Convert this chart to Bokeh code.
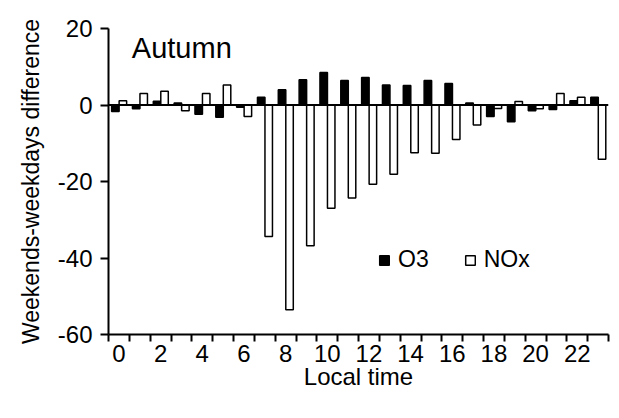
from bokeh.plotting import figure
from bokeh.models import Range1d, FixedTicker, Span, Legend, LegendItem, Label
from bokeh.embed import file_html
from bokeh.resources import INLINE

hours = list(range(24))
o3 = [-1.7, -1.0, 1.0, 0.5, -2.4, -3.2, -0.6, 2.0, 4.0, 6.6, 8.5, 6.4,
      7.2, 5.2, 5.1, 6.4, 5.6, 0.5, -3.0, -4.4, -1.5, -1.2, 1.1, 2.0]
nox = [1.1, 3.0, 3.6, -1.5, 3.0, 5.2, -3.0, -34.4, -53.5, -36.8, -27.0, -24.3,
       -20.7, -18.1, -12.5, -12.6, -9.0, -5.2, -0.9, 0.9, -1.0, 3.0, 2.0, -14.2]
x_tick_labels = [0, 2, 4, 6, 8, 10, 12, 14, 16, 18, 20, 22]
y_ticks = [-60, -40, -20, 0, 20]

FONT = "Liberation Sans"

p = figure(width=619, height=418, output_backend="svg", toolbar_location=None,
           x_range=Range1d(-0.5, 23.5), y_range=Range1d(-60, 20),
           min_border_left=108, min_border_right=11, min_border_top=28,
           min_border_bottom=84)
p.outline_line_color = None
p.xgrid.visible = False
p.ygrid.visible = False
p.background_fill_color = "white"

x_o3 = [h - 0.17 for h in hours]
x_nox = [h + 0.19 for h in hours]
r1 = p.vbar(x=x_o3, top=o3, bottom=0, width=0.36, fill_color="black",
            line_color="black", line_width=1.5)
r2 = p.vbar(x=x_nox, top=nox, bottom=0, width=0.36, fill_color="white",
            line_color="black", line_width=1.5)

p.add_layout(Span(location=0, dimension="width", line_color="black", line_width=2))

xa = p.xaxis[0]
xa.ticker = FixedTicker(ticks=x_tick_labels, minor_ticks=[h - 0.5 for h in range(25)])
xa.major_tick_out = 0
xa.major_tick_in = 0
xa.minor_tick_out = 7
xa.minor_tick_in = 0
xa.minor_tick_line_width = 2
xa.minor_tick_line_color = "black"
xa.axis_line_width = 2
xa.axis_line_color = "black"
xa.major_label_text_font = FONT
xa.major_label_text_font_size = "24px"
xa.major_label_text_color = "black"
xa.major_label_standoff = 3
xa.axis_label = "Local time"
xa.axis_label_text_font = FONT
xa.axis_label_text_font_size = "24px"
xa.axis_label_text_font_style = "normal"
xa.axis_label_text_color = "black"
xa.axis_label_standoff = -2

ya = p.yaxis[0]
ya.ticker = FixedTicker(ticks=y_ticks, minor_ticks=[])
ya.major_label_overrides = {t: str(t) for t in y_ticks}
ya.major_tick_out = 8
ya.major_tick_in = 0
ya.major_tick_line_width = 2
ya.major_tick_line_color = "black"
ya.axis_line_width = 2
ya.axis_line_color = "black"
ya.major_label_text_font = FONT
ya.major_label_text_font_size = "24px"
ya.major_label_text_color = "black"
ya.major_label_standoff = 8
ya.axis_label = "Weekends-weekdays difference"
ya.axis_label_text_font = FONT
ya.axis_label_text_font_size = "23px"
ya.axis_label_text_font_style = "normal"
ya.axis_label_text_color = "black"
ya.axis_label_standoff = 11

legend = Legend(items=[LegendItem(label="O3", renderers=[r1]),
                       LegendItem(label="NOx", renderers=[r2])],
                location=(270, 61), orientation="horizontal")
legend.border_line_color = None
legend.background_fill_alpha = 0
legend.label_text_font = FONT
legend.label_text_font_size = "23px"
legend.label_text_color = "black"
legend.glyph_width = 12
legend.glyph_height = 12
legend.spacing = 35
legend.padding = 0
legend.margin = 0
legend.label_standoff = 8
p.add_layout(legend)

p.add_layout(Label(x=0.62, y=15.0, text="Autumn", text_font=FONT,
                   text_font_size="29px", text_baseline="alphabetic",
                   text_color="black"))

open("out.html", "w").write(file_html(p, INLINE))
